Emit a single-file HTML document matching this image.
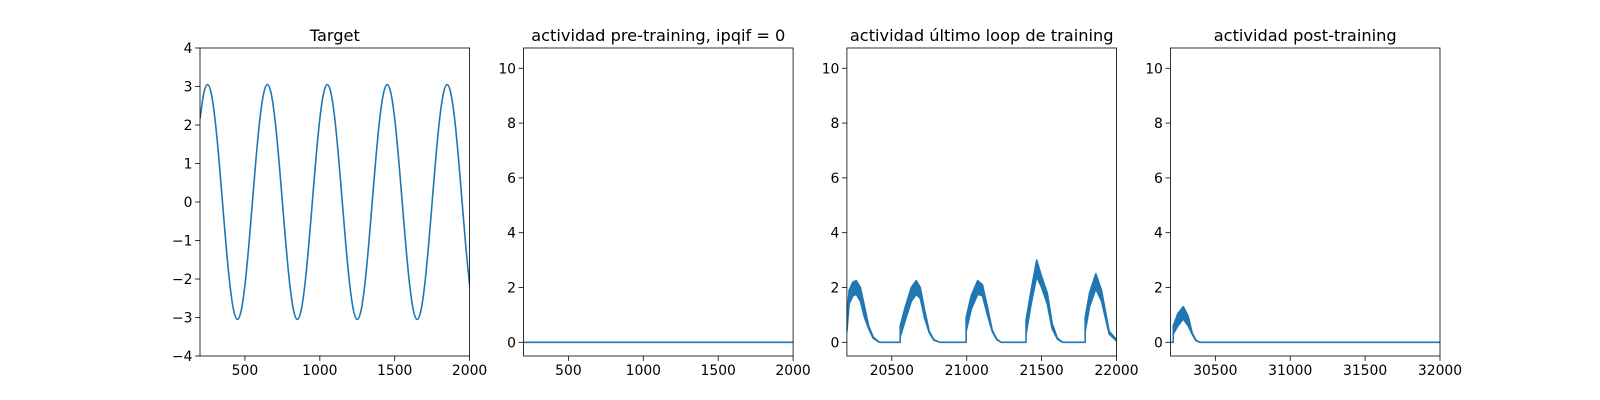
<!DOCTYPE html>
<html><head><meta charset="utf-8">
<style>
html,body{margin:0;padding:0;background:#fff;}
svg{display:block;font-family:"DejaVu Sans","Liberation Sans",sans-serif;}
</style></head>
<body>
<svg id="fig" width="1600" height="400" viewBox="0 0 1600 400" xmlns="http://www.w3.org/2000/svg"></svg>
<script>
// ---- Data ----
const targetT0 = 200, targetStep = 25;
const targetValues = [2.16,2.82,3.05,2.82,2.16,1.17,0,-1.17,-2.16,-2.82,-3.05,-2.82,-2.16,-1.17,0,1.17,
 2.16,2.82,3.05,2.82,2.16,1.17,0,-1.17,-2.16,-2.82,-3.05,-2.82,-2.16,-1.17,0,1.17,
 2.16,2.82,3.05,2.82,2.16,1.17,0,-1.17,-2.16,-2.82,-3.05,-2.82,-2.16,-1.17,0,1.17,
 2.16,2.82,3.05,2.82,2.16,1.17,0,-1.17,-2.16,-2.82,-3.05,-2.82,-2.16,-1.17,0,1.17,
 2.16,2.82,3.05,2.82,2.16,1.17,0,-1.17,-2.16];
const preT = [200, 2000];
const preV = [0, 0];
const lastT  = [20200,20215,20240,20263,20290,20318,20345,20375,20417,20556,20556,20590,20630,20663,20690,20718,20750,20780,20820,20996,20996,21030,21073,21105,21138,21170,21200,21230,21396,21396,21430,21467,21500,21538,21570,21605,21640,21791,21791,21820,21862,21900,21951,22000];
const lastHi = [0.9,1.9,2.2,2.25,2.0,1.3,0.6,0.2,0,0,0.6,1.3,2.0,2.25,2.0,1.2,0.4,0.1,0,0,0.9,1.7,2.25,2.1,1.3,0.45,0.12,0,0,0.8,1.9,3.0,2.4,1.8,0.7,0.15,0,0,0.9,1.8,2.5,1.9,0.4,0.1];
const lastLo = [0.4,1.4,1.7,1.75,1.5,0.9,0.5,0.15,0,0,0.2,0.8,1.5,1.75,1.6,0.9,0.35,0.08,0,0,0.4,1.2,1.75,1.7,1.0,0.4,0.1,0,0,0.3,1.4,2.4,2.0,1.4,0.5,0.12,0,0,0.4,1.3,1.95,1.5,0.3,0.05];
const postT  = [30200,30219,30219,30250,30286,30319,30345,30370,30397,32000];
const postHi = [0,0,0.6,1.05,1.3,0.95,0.35,0.08,0,0];
const postLo = [0,0,0.3,0.6,0.85,0.6,0.3,0.06,0,0];
const xTicks1 = [500,1000,1500,2000], yTicks1 = [-4,-3,-2,-1,0,1,2,3,4];
const xTicks2 = [500,1000,1500,2000], xTicks3 = [20500,21000,21500,22000], xTicks4 = [30500,31000,31500,32000];
const yTicksAct = [0,2,4,6,8,10];
const titles = ["Target","actividad pre-training, ipqif = 0","actividad último loop de training","actividad post-training"];

const NS="http://www.w3.org/2000/svg", svg=document.getElementById('fig');
const C="#1f77b4";
function el(tag,attrs,parent){const e=document.createElementNS(NS,tag);for(const k in attrs)e.setAttribute(k,attrs[k]);(parent||svg).appendChild(e);return e;}
const topY=48,bot=356,lefts=[200,523.5,846.9,1170.4],W=269.6;
function panel(i,xmin,xmax,ymin,ymax,xt,yt,name){
  const g=el('g',{});
  
  
  const L=lefts[i];
  const sx=v=>L+(v-xmin)/(xmax-xmin)*W, sy=v=>bot-(v-ymin)/(ymax-ymin)*(bot-topY);
  const t=el('text',{x:L+W/2,y:topY-7,'text-anchor':'middle','font-size':'16.2',fill:'#000'},g);
  t.textContent=titles[i];
  
  
  xt.forEach(v=>{el('line',{x1:sx(v),x2:sx(v),y1:bot,y2:bot+4.9,stroke:'#000','stroke-width':0.8},g);
    const tx=el('text',{x:sx(v),y:bot+19,'text-anchor':'middle','font-size':'13.9'},g);tx.textContent=v;
    
    });
  yt.forEach(v=>{el('line',{x1:L-4.9,x2:L,y1:sy(v),y2:sy(v),stroke:'#000','stroke-width':0.8},g);
    const ty=el('text',{x:L-7.5,y:sy(v)+5,'text-anchor':'end','font-size':'13.9'},g);ty.textContent=String(v).replace('-','\u2212');
    
    });
  const cp=el('clipPath',{id:'cp'+i},g);el('rect',{x:L,y:topY,width:W,height:bot-topY},cp);
  const dg=el('g',{'clip-path':'url(#cp'+i+')'},g);
  el('rect',{x:L,y:topY,width:W,height:bot-topY,fill:'none',stroke:'#000','stroke-width':0.8},g);
  return {sx,sy,dg};
}
function smoothPath(pts){let d='M'+pts[0][0]+','+pts[0][1];
  for(let i=0;i<pts.length-1;i++){const p0=pts[Math.max(0,i-1)],p1=pts[i],p2=pts[i+1],p3=pts[Math.min(pts.length-1,i+2)];
    d+=' C'+(p1[0]+(p2[0]-p0[0])/6)+','+(p1[1]+(p2[1]-p0[1])/6)+' '+(p2[0]-(p3[0]-p1[0])/6)+','+(p2[1]-(p3[1]-p1[1])/6)+' '+p2[0]+','+p2[1];}
  return d;}
// Panel 1
let p=panel(0,200,2000,-4,4,xTicks1,yTicks1,'target-panel');
const pts1=targetValues.map((v,k)=>[p.sx(targetT0+k*targetStep),p.sy(v)]);
let ln=el('path',{d:smoothPath(pts1),fill:'none',stroke:C,'stroke-width':1.6},p.dg);


// Panel 2
p=panel(1,200,2000,-0.5,10.74,xTicks2,yTicksAct,'pre-training-panel');
ln=el('polyline',{points:preT.map((t,k)=>p.sx(t)+','+p.sy(preV[k])).join(' '),fill:'none',stroke:C,'stroke-width':1.6},p.dg);


function band(P,T,Hi,Lo,name){
  let d='M'+T.map((t,k)=>P.sx(t)+','+P.sy(Hi[k])).join(' L');
  d+=' L'+T.map((t,k)=>P.sx(t)+','+P.sy(Lo[k])).reverse().join(' L')+' Z';
  const b=el('path',{d:d,fill:C,stroke:C,'stroke-width':1.6,'stroke-linejoin':'round'},P.dg);
  
  
}
p=panel(2,20200,22000,-0.5,10.74,xTicks3,yTicksAct,'last-loop-panel');
band(p,lastT,lastHi,lastLo,'last-loop-line');
p=panel(3,30200,32000,-0.5,10.74,xTicks4,yTicksAct,'post-training-panel');
band(p,postT,postHi,postLo,'post-training-line');
</script>
</body></html>
